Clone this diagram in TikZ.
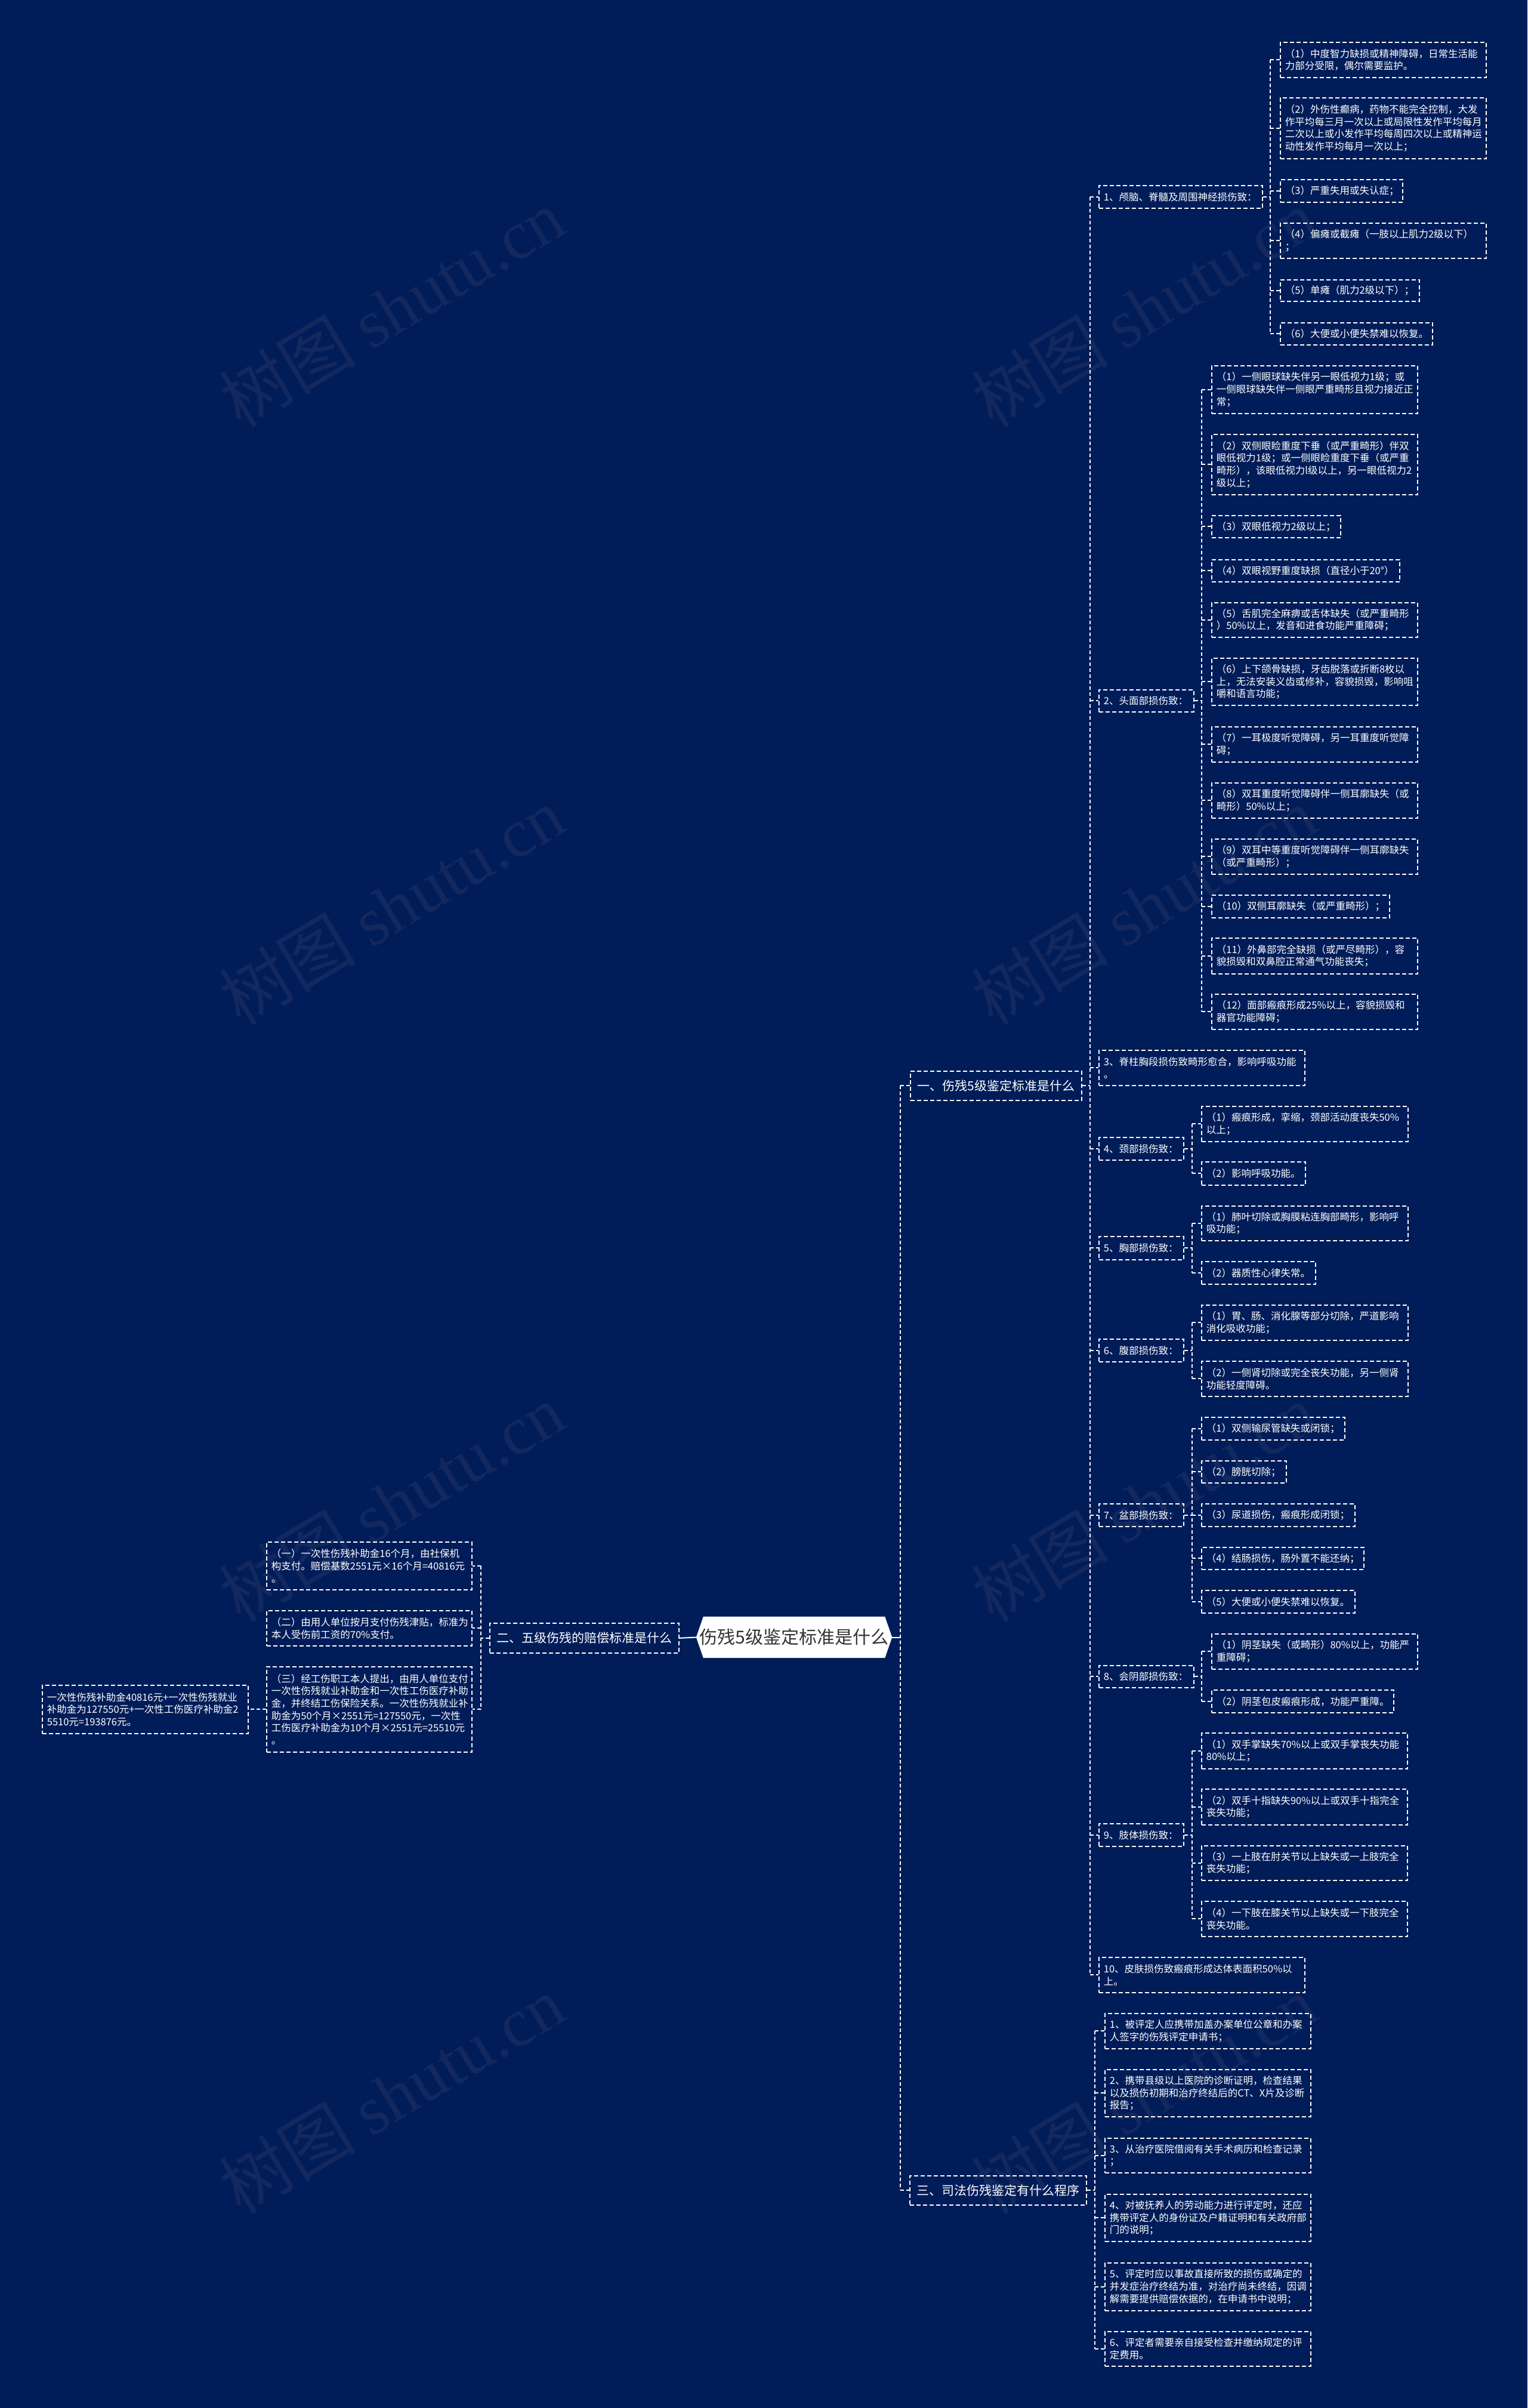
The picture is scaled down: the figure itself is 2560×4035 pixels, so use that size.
\documentclass[tikz,border=0pt]{standalone}
\usepackage{fontspec}
\setmainfont{Noto Sans CJK SC}
\newfontfamily\wmlatin{Liberation Serif}
\usetikzlibrary{backgrounds}
\setlength\parindent{0pt}
\definecolor{bgc}{RGB}{1,29,89}
\definecolor{wmc}{RGB}{18,40,94}
\definecolor{roottext}{RGB}{51,51,51}
\tikzset{
  boxbase/.style={draw=white, line width=1.7pt, dash pattern=on 7pt off 4pt, text=white, inner xsep=8pt, inner ysep=0pt},
  leafbox/.style={boxbase, align=left, font=\fontsize{16.5pt}{20.7pt}\selectfont},
  secbox/.style={boxbase, align=center, font=\fontsize{21pt}{26pt}\selectfont},
  rootbox/.style={inner sep=0pt, text=roottext, font=\fontsize{30pt}{34pt}\selectfont},
  conn/.style={draw=white, line width=2pt, dash pattern=on 6pt off 4pt},
  solidconn/.style={draw=white, line width=2pt},
  wm/.style={text=wmc, rotate=31, inner sep=0pt, font=\fontsize{115pt}{120pt}\selectfont}
}
\newcommand{\bx}[7]{%
  \pgfmathsetmacro\bxw{#5-#3}%
  \pgfmathsetmacro\bxh{#6-#4}%
  \pgfmathsetmacro\bxt{#5-#3-16}%
  \node[#1, anchor=north west, minimum width=\bxw pt, minimum height=\bxh pt, text width=\bxt pt] (#2) at (#3,-#4) {#7};}
\newcommand{\sx}[6]{%
  \pgfmathsetmacro\bxw{#4-#2}%
  \pgfmathsetmacro\bxh{#5-#3}%
  \node[secbox, anchor=north west, minimum width=\bxw pt, minimum height=\bxh pt] (#1) at (#2,-#3) {#6};}
% right-going group: parent, x of vertical, first child, last child, list
\newcommand{\grpR}[5]{%
  \coordinate (#1v) at (#2,0);
  \draw[conn] (#1.east) -- (#1v |- #1.east);
  \draw[conn] (#1v |- #3.west) -- (#1v |- #4.west);
  \foreach \ch in {#5} {\draw[conn] (#1v |- \ch.west) -- (\ch.west);}}
\newcommand{\grpL}[5]{%
  \coordinate (#1v) at (#2,0);
  \draw[conn] (#1.west) -- (#1v |- #1.west);
  \draw[conn] (#1v |- #3.east) -- (#1v |- #4.east);
  \foreach \ch in {#5} {\draw[conn] (#1v |- \ch.east) -- (\ch.east);}}
\begin{document}
\begin{tikzpicture}[x=1pt,y=1pt]
\useasboundingbox (0,0) rectangle (2560,-4035);
\begin{scope}[on background layer]
\fill[bgc] (0,0) rectangle (2560,-4035);
\end{scope}
% watermarks
\foreach \wx/\wy [count=\k] in {656/516,1917/516,656/1518,1917/1518,656/2518,1917/2518,656/3510,1917/3510}
  {\node[wm] (wm\k) at (\wx,-\wy) {树图 {\wmlatin shutu.cn}};}

% root
\node[rootbox, minimum width=328pt, minimum height=69pt] (root) at (1331,-2743.5) {伤残5级鉴定标准是什么};
\begin{scope}[on background layer]
\fill[white] (root.west) -- ([xshift=12pt]root.north west) -- ([xshift=-12pt]root.north east) -- (root.east) -- ([xshift=-12pt]root.south east) -- ([xshift=12pt]root.south west) -- cycle;
\end{scope}

% sections
\sx{s1}{1525}{1794}{1812}{1843}{一、伤残5级鉴定标准是什么}
\sx{s2}{820}{2719}{1137}{2769}{二、五级伤残的赔偿标准是什么}
\sx{s3}{1524}{3645}{1820}{3694}{三、司法伤残鉴定有什么程序}

% level 2 of section 1
\bx{leafbox}{p1}{1841}{310}{2115}{348}{1、颅脑、脊髓及周围神经损伤致：}
\bx{leafbox}{p2}{1841}{1155}{2000}{1192}{2、头面部损伤致：}
\bx{leafbox}{p3}{1841}{1759}{2186}{1818}{3、脊柱胸段损伤致畸形愈合，影响呼吸功能\\。}
\bx{leafbox}{p4}{1841}{1905}{1983}{1943}{4、颈部损伤致：}
\bx{leafbox}{p5}{1841}{2071}{1983}{2110}{5、胸部损伤致：}
\bx{leafbox}{p6}{1841}{2243}{1983}{2281}{6、腹部损伤致：}
\bx{leafbox}{p7}{1841}{2519}{1983}{2557}{7、盆部损伤致：}
\bx{leafbox}{p8}{1841}{2790}{2000}{2827}{8、会阴部损伤致：}
\bx{leafbox}{p9}{1841}{3055}{1983}{3093}{9、肢体损伤致：}
\bx{leafbox}{p10}{1841}{3279}{2186}{3338}{10、皮肤损伤致瘢痕形成达体表面积50\%以\\上。}

% leaves of p1
\bx{leafbox}{p1a}{2145}{70}{2490}{129}{（1）中度智力缺损或精神障碍，日常生活能\\力部分受限，偶尔需要监护。}
\bx{leafbox}{p1b}{2145}{163}{2490}{265}{（2）外伤性癫病，药物不能完全控制，大发\\作平均每三月一次以上或局限性发作平均每月\\二次以上或小发作平均每周四次以上或精神运\\动性发作平均每月一次以上；}
\bx{leafbox}{p1c}{2145}{300}{2350}{338}{（3）严重失用或失认症；}
\bx{leafbox}{p1d}{2145}{373}{2490}{432}{（4）偏瘫或截瘫（一肢以上肌力2级以下）\\；}
\bx{leafbox}{p1e}{2145}{468}{2378}{504}{（5）单瘫（肌力2级以下）；}
\bx{leafbox}{p1f}{2145}{540}{2400}{577}{（6）大便或小便失禁难以恢复。}

% leaves of p2
\bx{leafbox}{p2a}{2030}{612}{2375}{692}{（1）一侧眼球缺失伴另一眼低视力1级；或\\一侧眼球缺失伴一侧眼严重畸形且视力接近正\\常；}
\bx{leafbox}{p2b}{2030}{727}{2375}{828}{（2）双侧眼睑重度下垂（或严重畸形）伴双\\眼低视力1级；或一侧眼睑重度下垂（或严重\\畸形），该眼低视力l级以上，另一眼低视力2\\级以上；}
\bx{leafbox}{p2c}{2030}{863}{2246}{900}{（3）双眼低视力2级以上；}
\bx{leafbox}{p2d}{2030}{937}{2345}{974}{（4）双眼视野重度缺损（直径小于20°）}
\bx{leafbox}{p2e}{2030}{1009}{2375}{1067}{（5）舌肌完全麻痹或舌体缺失（或严重畸形\\）50\%以上，发音和进食功能严重障碍；}
\bx{leafbox}{p2f}{2030}{1102}{2375}{1181}{（6）上下颌骨缺损，牙齿脱落或折断8枚以\\上，无法安装义齿或修补，容貌损毁，影响咀\\嚼和语言功能；}
\bx{leafbox}{p2g}{2030}{1217}{2375}{1276}{（7）一耳极度听觉障碍，另一耳重度听觉障\\碍；}
\bx{leafbox}{p2h}{2030}{1311}{2375}{1370}{（8）双耳重度听觉障碍伴一侧耳廓缺失（或\\畸形）50\%以上；}
\bx{leafbox}{p2i}{2030}{1405}{2375}{1464}{（9）双耳中等重度听觉障碍伴一侧耳廓缺失\\（或严重畸形）；}
\bx{leafbox}{p2j}{2030}{1499}{2328}{1537}{（10）双侧耳廓缺失（或严重畸形）；}
\bx{leafbox}{p2k}{2030}{1571}{2375}{1631}{（11）外鼻部完全缺损（或严尽畸形），容\\貌损毁和双鼻腔正常通气功能丧失；}
\bx{leafbox}{p2l}{2030}{1665}{2375}{1724}{（12）面部瘢痕形成25\%以上，容貌损毁和\\器官功能障碍；}

% leaves of p4, p5, p6
\bx{leafbox}{p4a}{2013}{1853}{2359}{1912}{（1）瘢痕形成，挛缩，颈部活动度丧失50\%\\以上；}
\bx{leafbox}{p4b}{2013}{1946}{2187}{1985}{（2）影响呼吸功能。}
\bx{leafbox}{p5a}{2013}{2020}{2359}{2078}{（1）肺叶切除或胸膜粘连胸部畸形，影响呼\\吸功能；}
\bx{leafbox}{p5b}{2013}{2113}{2204}{2151}{（2）器质性心律失常。}
\bx{leafbox}{p6a}{2013}{2186}{2359}{2245}{（1）胃、肠、消化腺等部分切除，严道影响\\消化吸收功能；}
\bx{leafbox}{p6b}{2013}{2280}{2359}{2339}{（2）一侧肾切除或完全丧失功能，另一侧肾\\功能轻度障碍。}

% leaves of p7
\bx{leafbox}{p7a}{2013}{2374}{2253}{2412}{（1）双侧输尿管缺失或闭锁；}
\bx{leafbox}{p7b}{2013}{2447}{2155}{2484}{（2）膀胱切除；}
\bx{leafbox}{p7c}{2013}{2519}{2270}{2557}{（3）尿道损伤，瘢痕形成闭锁；}
\bx{leafbox}{p7d}{2013}{2592}{2285}{2629}{（4）结肠损伤，肠外置不能还纳；}
\bx{leafbox}{p7e}{2013}{2664}{2270}{2702}{（5）大便或小便失禁难以恢复。}

% leaves of p8
\bx{leafbox}{p8a}{2030}{2737}{2375}{2796}{（1）阴茎缺失（或畸形）80\%以上，功能严\\重障碍；}
\bx{leafbox}{p8b}{2030}{2831}{2335}{2869}{（2）阴茎包皮瘢痕形成，功能严重障。}

% leaves of p9
\bx{leafbox}{p9a}{2013}{2903}{2358}{2963}{（1）双手掌缺失70\%以上或双手掌丧失功能\\80\%以上；}
\bx{leafbox}{p9b}{2013}{2997}{2358}{3057}{（2）双手十指缺失90\%以上或双手十指完全\\丧失功能；}
\bx{leafbox}{p9c}{2013}{3092}{2358}{3150}{（3）一上肢在肘关节以上缺失或一上肢完全\\丧失功能；}
\bx{leafbox}{p9d}{2013}{3185}{2358}{3244}{（4）一下肢在膝关节以上缺失或一下肢完全\\丧失功能。}

% section 3 leaves
\bx{leafbox}{q1}{1851}{3373}{2196}{3432}{1、被评定人应携带加盖办案单位公章和办案\\人签字的伤残评定申请书；}
\bx{leafbox}{q2}{1851}{3467}{2196}{3546}{2、携带县级以上医院的诊断证明，检查结果\\以及损伤初期和治疗终结后的CT、X片及诊断\\报告；}
\bx{leafbox}{q3}{1851}{3582}{2196}{3640}{3、从治疗医院借阅有关手术病历和检查记录\\；}
\bx{leafbox}{q4}{1851}{3676}{2196}{3755}{4、对被抚养人的劳动能力进行评定时，还应\\携带评定人的身份证及户籍证明和有关政府部\\门的说明；}
\bx{leafbox}{q5}{1851}{3791}{2196}{3871}{5、评定时应以事故直接所致的损伤或确定的\\并发症治疗终结为准，对治疗尚未终结，因调\\解需要提供赔偿依据的，在申请书中说明；}
\bx{leafbox}{q6}{1851}{3906}{2196}{3964}{6、评定者需要亲自接受检查并缴纳规定的评\\定费用。}

% section 2 leaves
\bx{leafbox}{r1}{446}{2583}{790}{2663}{（一）一次性伤残补助金16个月，由社保机\\构支付。赔偿基数2551元×16个月=40816元\\。}
\bx{leafbox}{r2}{446}{2698}{790}{2757}{（二）由用人单位按月支付伤残津贴，标准为\\本人受伤前工资的70\%支付。}
\bx{leafbox}{r3}{446}{2792}{790}{2935}{（三）经工伤职工本人提出，由用人单位支付\\一次性伤残就业补助金和一次性工伤医疗补助\\金，并终结工伤保险关系。一次性伤残就业补\\助金为50个月×2551元=127550元，一次性\\工伤医疗补助金为10个月×2551元=25510元\\。}
\bx{leafbox}{r3c}{70}{2823}{415}{2904}{一次性伤残补助金40816元+一次性伤残就业\\补助金为127550元+一次性工伤医疗补助金2\\5510元=193876元。}

% connectors
\coordinate (trunk) at (1509,0);
\draw[solidconn] (root.east) -- (trunk |- root.east);
\draw[solidconn] (root.west) -- (s2.east);
\draw[conn] (trunk |- s1.west) -- (trunk |- s3.west);
\draw[conn] (trunk |- s1.west) -- (s1.west);
\draw[conn] (trunk |- s3.west) -- (s3.west);

\grpR{s1}{1827}{p1}{p10}{p1,p2,p3,p4,p5,p6,p7,p8,p9,p10}
\grpR{p1}{2129}{p1a}{p1f}{p1a,p1b,p1c,p1d,p1e,p1f}
\grpR{p2}{2014}{p2a}{p2l}{p2a,p2b,p2c,p2d,p2e,p2f,p2g,p2h,p2i,p2j,p2k,p2l}
\grpR{p4}{1998}{p4a}{p4b}{p4a,p4b}
\grpR{p5}{1998}{p5a}{p5b}{p5a,p5b}
\grpR{p6}{1998}{p6a}{p6b}{p6a,p6b}
\grpR{p7}{1998}{p7a}{p7e}{p7a,p7b,p7c,p7d,p7e}
\grpR{p8}{2014}{p8a}{p8b}{p8a,p8b}
\grpR{p9}{1998}{p9a}{p9d}{p9a,p9b,p9c,p9d}
\grpR{s3}{1835}{q1}{q6}{q1,q2,q3,q4,q5,q6}
\grpL{s2}{806}{r1}{r3}{r1,r2,r3}
\draw[conn] (r3.west) -- (r3c.east);
\end{tikzpicture}
\end{document}
